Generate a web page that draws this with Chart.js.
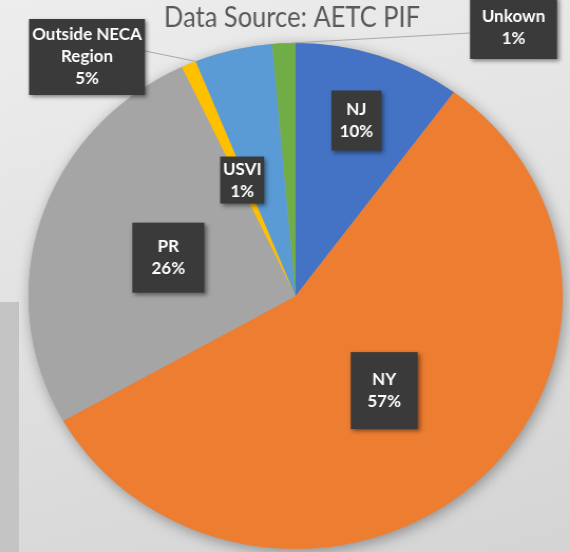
<!DOCTYPE html>
<html>
<head>
<meta charset="utf-8">
<script src="https://cdn.jsdelivr.net/npm/chart.js@4.4.1/dist/chart.umd.min.js"></script>
<style>
  html, body { margin: 0; padding: 0; }
  body {
    width: 570px; height: 552px; overflow: hidden; position: relative;
    background: linear-gradient(165deg, #ededed 0%, #e2e2e2 45%, #d4d4d4 100%);
  }
  #sidebar { position: absolute; left: 0; top: 302px; width: 19px; height: 250px; background: #c4c4c4; }
  #chart { position: absolute; left: 0; top: 0; transform: scaleX(1.0556); transform-origin: 0 0; }
</style>
</head>
<body>
<div id="sidebar"></div>
<canvas id="chart" width="540" height="552"></canvas>
<script>
// data (share of patients, %)
var regions = ['NJ', 'NY', 'PR', 'USVI', 'Outside NECA Region', 'Unkown'];
var shares = [10.1, 56.7, 26.2, 0.9, 4.7, 1.4];
var sliceColors = ['#4472C4', '#ED7D31', '#A5A5A5', '#FFC000', '#5B9BD5', '#70AD47'];
var labelLines = [['NJ'], ['NY'], ['PR'], ['USVI'], ['Outside NECA', 'Region'], ['Unkown']];
var chartTitle = 'Data Source: AETC PIF';

var SX = 570 / 540; // the slide image is stretched a bit sideways

// where each data label box sits (screen px)
var labelLayout = [
    { inside: true, f: 0.73, w: 50, h: 60 },
    { inside: true, f: 0.50, w: 67, h: 77 },
    { inside: true, f: 0.50, w: 72, h: 70 },
    { inside: true, f: 0.50, w: 44, h: 47 },
    { inside: false, x: 29, y: 19, w: 116, h: 76, lx: 145, ly: 51, frac: 0 },
    { inside: false, x: 470, y: -3, w: 87, h: 62, lx: 470, ly: 33, frac: 0.8 }
];

function drawBox(ctx, x, y, w, h, lines) {
    ctx.save();
    ctx.shadowColor = 'rgba(0,0,0,0.45)';
    ctx.shadowBlur = 4;
    ctx.shadowOffsetX = 2;
    ctx.shadowOffsetY = 2;
    ctx.fillStyle = '#3a3a3a';
    ctx.fillRect(x, y, w, h);
    ctx.restore();
    ctx.fillStyle = '#ffffff';
    ctx.font = 'bold 17px Lato';
    ctx.textAlign = 'center';
    ctx.textBaseline = 'middle';
    var lh = 22;
    var y0 = y + h / 2 - (lines.length - 1) * lh / 2;
    for (var i = 0; i < lines.length; i++) {
        ctx.fillText(lines[i], x + w / 2, y0 + i * lh);
    }
}

var pieShadow = {
    id: 'pieShadow',
    beforeDatasetsDraw: function (chart) {
        var arc = chart.getDatasetMeta(0).data[0];
        var ctx = chart.ctx;
        ctx.save();
        ctx.shadowColor = 'rgba(0,0,0,0.35)';
        ctx.shadowBlur = 14;
        ctx.shadowOffsetX = 2;
        ctx.shadowOffsetY = 3;
        ctx.fillStyle = '#a5a5a5';
        ctx.beginPath();
        ctx.arc(arc.x, arc.y, arc.outerRadius, 0, Math.PI * 2);
        ctx.fill();
        ctx.restore();
    }
};

var labelsPlugin = {
    id: 'labelsPlugin',
    afterDatasetsDraw: function (chart) {
        var ctx = chart.ctx;
        var meta = chart.getDatasetMeta(0);
        var total = shares.reduce(function (a, b) { return a + b; }, 0);
        ctx.save();
        ctx.scale(1 / SX, 1);

        // title
        ctx.fillStyle = '#595959';
        ctx.font = '29px Lato';
        ctx.textAlign = 'center';
        ctx.textBaseline = 'alphabetic';
        ctx.fillText(chartTitle, 292, 27, 256);

        for (var i = 0; i < meta.data.length; i++) {
            var arc = meta.data[i];
            var L = labelLayout[i];
            var lines = labelLines[i].concat([Math.round(shares[i] / total * 100) + '%']);
            var R = arc.outerRadius;
            if (L.inside) {
                var mid = (arc.startAngle + arc.endAngle) / 2;
                var px = (arc.x + L.f * R * Math.cos(mid)) * SX;
                var py = arc.y + L.f * R * Math.sin(mid);
                drawBox(ctx, px - L.w / 2, py - L.h / 2, L.w, L.h, lines);
            } else {
                var a = arc.startAngle + L.frac * (arc.endAngle - arc.startAngle);
                var ax = (arc.x + R * Math.cos(a)) * SX;
                var ay = arc.y + R * Math.sin(a);
                ctx.strokeStyle = '#a6a6a6';
                ctx.lineWidth = 1;
                ctx.beginPath();
                ctx.moveTo(L.lx, L.ly);
                ctx.lineTo(ax, ay);
                ctx.stroke();
                drawBox(ctx, L.x, L.y, L.w, L.h, lines);
            }
        }
        ctx.restore();
    }
};

new Chart(document.getElementById('chart'), {
    type: 'pie',
    data: {
        labels: regions,
        datasets: [
            {
                data: shares,
                backgroundColor: sliceColors,
                borderWidth: 0,
            },
        ],
    },
    options: {
        responsive: false,
        animation: false,
        layout: { padding: { top: 43, bottom: 3, left: 27, right: 7 } },
        plugins: {
            legend: { display: false },
            tooltip: { enabled: false },
        },
    },
    plugins: [pieShadow, labelsPlugin],
});
</script>
</body>
</html>
